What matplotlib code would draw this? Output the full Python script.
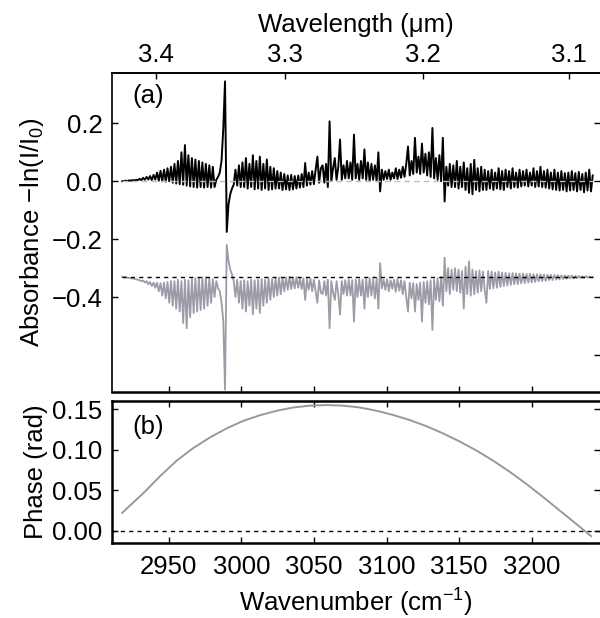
import numpy as np
import matplotlib.pyplot as plt
from matplotlib.ticker import FuncFormatter

plt.rcParams['font.family'] = ['Liberation Sans', 'DejaVu Sans']
plt.rcParams['mathtext.fontset'] = 'custom'
plt.rcParams['mathtext.rm'] = 'Liberation Sans'
plt.rcParams['mathtext.it'] = 'Liberation Sans:italic'
plt.rcParams['font.size'] = 18.5

# wavenumber sampling of the spectra (cm^-1), 2918 .. 3242 in 1.2 steps
wn = np.round(2918.0 + 1.2 * np.arange(271), 1)

# measured absorbance (black), one row = 12 cm^-1
absorb = [
    0.000, 0.001, 0.002, 0.001, 0.003, 0.002, 0.004, 0.003, 0.005, 0.004,      # 2918
    0.008, 0.004, 0.012, 0.005, 0.015, 0.006, 0.018, 0.004, 0.022, 0.006,      # 2930
    0.030, 0.002, 0.036, 0.000, 0.040, -0.002, 0.045, 0.000, 0.050, -0.005,    # 2942
    0.060, -0.008, 0.070, -0.010, 0.100, -0.012, 0.125, -0.015, 0.090, -0.018,  # 2954
    0.080, -0.020, 0.075, -0.022, 0.070, -0.020, 0.065, -0.022, 0.060, -0.020,  # 2966
    0.055, -0.022, 0.050, -0.020, 0.005, 0.015, 0.030, 0.070, 0.180, 0.345,    # 2978
    -0.175, -0.080, -0.045, -0.025, -0.012, 0.040, -0.015, 0.055, -0.020, 0.065,  # 2990
    -0.020, 0.080, -0.025, 0.060, -0.020, 0.090, -0.028, 0.070, -0.025, 0.085,  # 3002
    -0.030, 0.060, -0.025, 0.075, -0.030, 0.050, -0.028, 0.045, -0.025, 0.035,  # 3014
    -0.025, 0.030, -0.030, 0.025, -0.028, 0.020, -0.030, 0.022, -0.028, 0.018,  # 3026
    -0.025, 0.020, -0.022, 0.025, -0.020, 0.063, -0.015, 0.030, -0.012, 0.035,  # 3038
    -0.010, 0.040, 0.085, -0.005, 0.045, 0.055, -0.005, 0.060, -0.020, 0.207,   # 3050
    0.000, 0.045, 0.080, 0.005, 0.050, 0.144, 0.005, 0.055, 0.010, 0.070,      # 3062
    0.010, 0.065, 0.005, 0.161, 0.010, 0.060, 0.005, 0.070, 0.010, 0.110,      # 3074
    0.005, 0.065, 0.000, 0.060, 0.005, 0.055, 0.000, 0.100, -0.035, 0.040,     # 3086
    0.005, 0.035, 0.008, 0.040, 0.005, 0.030, 0.010, 0.045, 0.008, 0.040,      # 3098
    0.012, 0.050, 0.015, 0.060, 0.120, 0.020, 0.070, 0.025, 0.150, 0.030,      # 3110
    0.085, 0.025, 0.130, 0.030, 0.095, 0.020, 0.100, 0.015, 0.184, 0.010,      # 3122
    0.080, 0.005, 0.090, 0.000, 0.150, -0.070, 0.050, -0.015, 0.060, -0.020,   # 3134
    0.055, -0.020, 0.070, -0.025, 0.050, -0.020, 0.065, -0.030, 0.045, -0.040,  # 3146
    0.060, -0.045, 0.074, -0.030, 0.045, -0.035, 0.050, -0.030, 0.040, -0.030,  # 3158
    0.035, -0.025, 0.040, -0.030, 0.030, -0.025, 0.045, -0.028, 0.035, -0.030,  # 3170
    0.040, -0.020, 0.035, -0.025, 0.045, -0.020, 0.030, -0.022, 0.040, -0.018,  # 3182
    0.035, -0.015, 0.040, -0.018, 0.030, -0.015, 0.045, -0.020, 0.035, -0.018,  # 3194
    0.050, -0.020, 0.035, -0.022, 0.040, -0.025, 0.030, -0.028, 0.040, -0.030,  # 3206
    0.030, -0.032, 0.035, -0.030, 0.028, -0.035, 0.030, -0.032, 0.035, -0.030,  # 3218
    0.028, -0.035, 0.032, -0.030, 0.025, -0.038, 0.030, -0.032, 0.040, -0.035,  # 3230
    0.020,                                                                     # 3242
]

# second trace (grey), drawn offset around -0.33
absorb_grey = [
    -0.330, -0.331, -0.332, -0.333, -0.334, -0.335, -0.336, -0.337, -0.339, -0.340,  # 2918
    -0.342, -0.345, -0.343, -0.350, -0.345, -0.356, -0.348, -0.362, -0.350, -0.368,  # 2930
    -0.350, -0.380, -0.352, -0.395, -0.350, -0.405, -0.348, -0.420, -0.345, -0.430,  # 2942
    -0.345, -0.440, -0.340, -0.450, -0.345, -0.490, -0.340, -0.508, -0.342, -0.470,  # 2954
    -0.338, -0.455, -0.335, -0.450, -0.335, -0.445, -0.332, -0.440, -0.332, -0.430,  # 2966
    -0.335, -0.420, -0.338, -0.400, -0.345, -0.370, -0.380, -0.420, -0.480, -0.720,  # 2978
    -0.220, -0.275, -0.305, -0.322, -0.345, -0.400, -0.340, -0.420, -0.345, -0.440,  # 2990
    -0.342, -0.450, -0.345, -0.430, -0.340, -0.460, -0.342, -0.440, -0.340, -0.455,  # 3002
    -0.338, -0.430, -0.340, -0.420, -0.335, -0.410, -0.338, -0.400, -0.335, -0.395,  # 3014
    -0.332, -0.390, -0.335, -0.380, -0.332, -0.375, -0.330, -0.372, -0.332, -0.370,  # 3026
    -0.332, -0.368, -0.335, -0.372, -0.335, -0.410, -0.338, -0.375, -0.336, -0.380,  # 3038
    -0.340, -0.380, -0.420, -0.342, -0.385, -0.390, -0.345, -0.395, -0.340, -0.508,  # 3050
    -0.345, -0.385, -0.410, -0.345, -0.390, -0.460, -0.345, -0.390, -0.342, -0.395,  # 3062
    -0.340, -0.395, -0.342, -0.485, -0.340, -0.400, -0.338, -0.395, -0.340, -0.440,  # 3074
    -0.338, -0.400, -0.335, -0.395, -0.338, -0.405, -0.335, -0.440, -0.283, -0.370,  # 3086
    -0.340, -0.375, -0.338, -0.380, -0.342, -0.372, -0.340, -0.382, -0.338, -0.378,  # 3098
    -0.342, -0.390, -0.345, -0.400, -0.450, -0.350, -0.405, -0.352, -0.450, -0.355,  # 3110
    -0.410, -0.350, -0.485, -0.348, -0.420, -0.345, -0.425, -0.342, -0.514, -0.340,  # 3122
    -0.410, -0.335, -0.415, -0.330, -0.430, -0.264, -0.380, -0.300, -0.390, -0.305,  # 3134
    -0.375, -0.300, -0.380, -0.305, -0.385, -0.310, -0.440, -0.295, -0.390, -0.277,  # 3146
    -0.395, -0.305, -0.390, -0.310, -0.385, -0.308, -0.380, -0.312, -0.375, -0.420,  # 3158
    -0.310, -0.372, -0.312, -0.370, -0.315, -0.368, -0.312, -0.365, -0.315, -0.362,  # 3170
    -0.316, -0.360, -0.318, -0.358, -0.317, -0.356, -0.318, -0.355, -0.319, -0.353,  # 3182
    -0.319, -0.352, -0.320, -0.350, -0.320, -0.349, -0.321, -0.348, -0.321, -0.346,  # 3194
    -0.322, -0.345, -0.322, -0.344, -0.323, -0.342, -0.323, -0.341, -0.324, -0.340,  # 3206
    -0.324, -0.339, -0.325, -0.338, -0.325, -0.337, -0.326, -0.336, -0.326, -0.336,  # 3218
    -0.327, -0.335, -0.327, -0.334, -0.328, -0.334, -0.328, -0.333, -0.329, -0.332,  # 3230
    -0.330,                                                                          # 3242
]
grey_offset = -0.33

# phase (rad)
phase_wn = [2918.0, 2932.7, 2944.2, 2955.6, 2967.1, 2978.6, 2990.0, 3001.4, 3012.9,
            3024.4, 3035.8, 3047.3, 3058.8, 3070.2, 3081.6, 3093.1, 3104.5, 3116.0,
            3127.4, 3138.9, 3150.4, 3161.8, 3173.3, 3184.7, 3196.2, 3207.6, 3219.0,
            3230.5, 3240.9]
phase = [0.022, 0.0465, 0.0675, 0.0865, 0.1022, 0.1152, 0.1263, 0.1355, 0.1425,
         0.148, 0.152, 0.1543, 0.155, 0.1543, 0.152, 0.148, 0.1428, 0.1365,
         0.129, 0.120, 0.110, 0.0990, 0.0865, 0.0728, 0.0578, 0.0418, 0.0252,
         0.0085, -0.0068]

grey_col = '#9c9ca8'


def minus_fmt(decimals):
    return FuncFormatter(lambda v, pos: f'{v:.{decimals}f}'.replace('-', '\u2212'))


fig = plt.figure(figsize=(6, 6.18), dpi=100)
ax1 = fig.add_axes([0.1867, 0.3657, 0.8133, 0.5162])
ax2 = fig.add_axes([0.1867, 0.1214, 0.8133, 0.2297])

# panel (a)
ax1.plot(wn, absorb, color='k', lw=1.4)
ax1.plot(wn, absorb_grey, color=grey_col, lw=1.3)
ax1.hlines(0, wn[0], wn[-1], colors='#bdbdbd', linestyles=(0, (4, 3)), lw=1, zorder=3)
ax1.hlines(grey_offset, wn[0], wn[-1], colors='k', linestyles=(0, (3, 3)), lw=1, zorder=3)
ax1.set_xlim(2911, 3247)
ax1.set_ylim(-0.728, 0.374)
ax1.set_xticks([2950, 3000, 3050, 3100, 3150, 3200])
ax1.set_yticks([-0.4, -0.2, 0.0, 0.2])
ax1.yaxis.set_major_formatter(minus_fmt(1))
ax1.tick_params(direction='in', length=4, width=1, labelbottom=False, top=False, pad=7)
ax1.set_ylabel('Absorbance \u2212ln(I/I$_0$)', labelpad=4)
ax1.spines['right'].set_visible(False)
for s in ['left', 'top']:
    ax1.spines[s].set_linewidth(1.2)
ax1.spines['bottom'].set_linewidth(1.8)
ax1.text(0.041, 0.965, '(a)', transform=ax1.transAxes, va='top', ha='left')

right1 = ax1.secondary_yaxis('right')
right1.set_yticks([-0.6, -0.4, -0.2, 0.0, 0.2])
right1.tick_params(direction='in', length=4, width=1, labelright=False)
right1.spines['right'].set_visible(False)

with np.errstate(divide='ignore'):
    top1 = ax1.secondary_xaxis('top', functions=(lambda x: 1e4 / x, lambda x: 1e4 / x))
top1.set_xticks([3.4, 3.3, 3.2, 3.1])
top1.set_xticklabels(['3.4', '3.3', '3.2', '3.1'])
top1.tick_params(direction='in', length=4, width=1, pad=4)
top1.set_xlabel('Wavelength (\u03bcm)', labelpad=8)
top1.spines['top'].set_linewidth(1.2)

# panel (b)
ax2.plot(phase_wn, phase, color='#999999', lw=1.4)
ax2.axhline(0, color='k', ls=(0, (3, 3)), lw=1)
ax2.set_xlim(2911, 3247)
ax2.set_ylim(-0.0152, 0.160)
ax2.set_xticks([2950, 3000, 3050, 3100, 3150, 3200])
ax2.set_yticks([0.0, 0.05, 0.10, 0.15])
ax2.yaxis.set_major_formatter(minus_fmt(2))
ax2.tick_params(direction='in', length=4, width=1, top=True, right=True, pad=7)
ax2.tick_params(axis='x', pad=9)
ax2.set_xlabel('Wavenumber (cm$^{-1}$)', labelpad=5)
ax2.set_ylabel('Phase (rad)', labelpad=3)
ax2.spines['right'].set_visible(False)
for s in ['left', 'top', 'bottom']:
    ax2.spines[s].set_linewidth(1.8)
ax2.text(0.041, 0.90, '(b)', transform=ax2.transAxes, va='top', ha='left')

plt.savefig('out.png', dpi=100)
